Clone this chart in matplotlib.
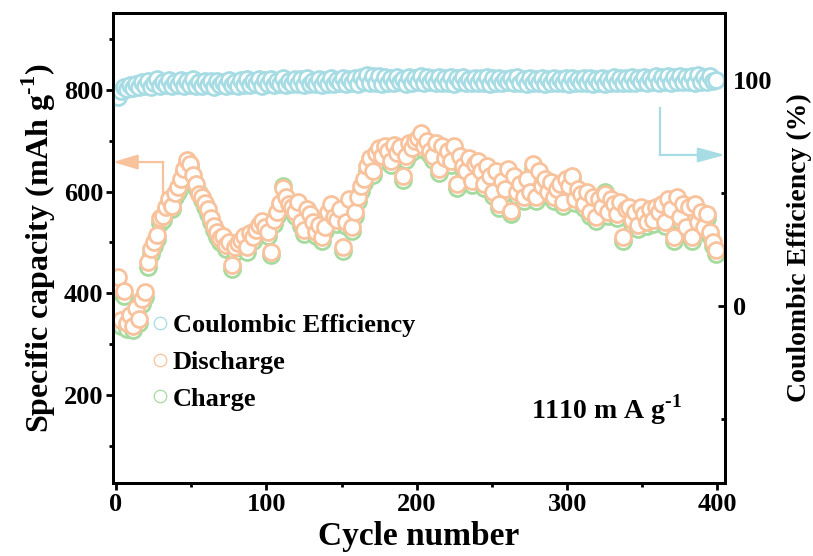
import numpy as np
import matplotlib
matplotlib.use("Agg")
import matplotlib.pyplot as plt
from matplotlib.lines import Line2D
from matplotlib.ticker import MultipleLocator

plt.rcParams["font.family"] = ["Liberation Serif", "DejaVu Serif"]
plt.rcParams["font.weight"] = "bold"
plt.rcParams["mathtext.fontset"] = "custom"
plt.rcParams["mathtext.rm"] = "Liberation Serif:bold"
plt.rcParams["mathtext.bf"] = "Liberation Serif:bold"
plt.rcParams["axes.unicode_minus"] = False

# ============================================================
# Data (every 2nd cycle)
# ============================================================
cycles = np.arange(1, 401, 2)

discharge = [
    432, 348, 405, 342, 358, 336, 372, 350, 388, 402,
    462, 488, 500, 515, 548, 552, 570, 585, 572, 598,
    608, 625, 645, 662, 655, 632, 615, 595, 590, 578,
    565, 548, 532, 520, 508, 512, 495, 500, 455, 490,
    498, 505, 512, 490, 518, 510, 525, 535, 542, 530,
    520, 482, 545, 560, 578, 606, 590, 575, 570, 560,
    580, 540, 525, 565, 555, 540, 520, 535, 510, 530,
    560, 575, 550, 545, 565, 490, 540, 585, 530, 560,
    590, 610, 625, 650, 665, 640, 675, 685, 670, 690,
    680, 660, 692, 675, 688, 630, 670, 695, 685, 700,
    705, 715, 690, 700, 680, 670, 695, 645, 690, 665,
    680, 660, 690, 615, 670, 650, 640, 665, 620, 655,
    660, 640, 615, 650, 630, 600, 640, 575, 620, 605,
    645, 562, 630, 600, 615, 590, 625, 600, 655, 590,
    640, 610, 625, 600, 618, 590, 605, 615, 580, 625,
    610, 630, 585, 605, 595, 575, 600, 560, 590, 550,
    585, 570, 595, 560, 585, 575, 555, 580, 510, 565,
    570, 545, 560, 535, 570, 555, 540, 565, 545, 570,
    560, 575, 540, 585, 565, 510, 590, 550, 575, 530,
    570, 510, 575, 540, 560, 530, 555, 520, 500, 485,
]

charge = [
    405, 335, 395, 330, 345, 328, 360, 342, 378, 392,
    452, 478, 492, 506, 538, 545, 561, 576, 565, 590,
    600, 617, 638, 652, 648, 625, 606, 597, 584, 570,
    556, 540, 524, 511, 500, 503, 487, 492, 447, 482,
    490, 497, 503, 482, 510, 502, 516, 527, 534, 522,
    512, 475, 537, 552, 570, 610, 582, 566, 562, 552,
    572, 532, 517, 556, 547, 532, 512, 527, 503, 522,
    552, 566, 542, 537, 556, 483, 532, 576, 522, 552,
    582, 602, 616, 641, 656, 632, 666, 676, 662, 681,
    672, 652, 683, 667, 680, 622, 662, 686, 677, 692,
    697, 706, 682, 692, 672, 662, 687, 637, 682, 657,
    672, 652, 682, 607, 662, 642, 632, 657, 612, 647,
    652, 632, 607, 642, 622, 592, 632, 567, 612, 597,
    637, 555, 622, 592, 607, 582, 617, 592, 646, 582,
    632, 602, 617, 592, 610, 582, 597, 607, 572, 617,
    602, 622, 577, 597, 587, 567, 592, 552, 582, 542,
    577, 562, 600, 552, 577, 567, 547, 572, 503, 557,
    562, 537, 552, 527, 562, 547, 532, 557, 537, 562,
    552, 567, 532, 577, 557, 502, 582, 542, 567, 522,
    562, 502, 567, 532, 552, 522, 547, 512, 492, 477,
]

efficiency = [
    92.5, 95.0, 96.8, 95.8, 97.6, 96.4, 98.3, 97.0, 98.9, 97.2,
    99.6, 96.9, 98.8, 100.6, 97.4, 99.2, 97.8, 99.9, 97.3, 99.1,
    97.6, 99.8, 97.2, 99.4, 97.9, 100.2, 97.5, 99.0, 97.1, 99.6,
    97.8, 99.3, 97.0, 99.7, 97.6, 99.1, 97.3, 99.8, 97.7, 99.2,
    97.4, 99.9, 97.8, 100.5, 97.6, 99.4, 98.0, 100.3, 97.5, 99.8,
    98.1, 100.4, 97.7, 99.6, 98.3, 100.7, 97.9, 99.5, 98.2, 100.6,
    98.0, 100.2, 97.8, 100.8, 98.4, 99.7, 98.1, 100.5, 97.9, 100.1,
    98.3, 100.9, 98.0, 99.8, 98.5, 101.0, 98.2, 100.3, 98.6, 100.7,
    98.4, 101.3, 98.9, 102.0, 98.6, 101.6, 98.8, 101.9, 98.3, 101.2,
    98.7, 100.8, 98.5, 101.4, 98.9, 100.6, 98.4, 101.5, 98.8, 100.9,
    99.0, 101.7, 98.6, 101.1, 98.9, 100.8, 98.5, 101.4, 98.7, 100.7,
    98.8, 101.2, 98.4, 100.9, 98.9, 101.3, 98.6, 100.6, 98.8, 101.0,
    98.5, 100.9, 98.7, 101.2, 98.4, 100.7, 98.8, 101.0, 98.6, 100.5,
    98.9, 100.8, 98.5, 101.1, 98.7, 100.6, 98.4, 100.9, 98.8, 100.4,
    98.6, 100.8, 98.3, 100.6, 98.7, 101.0, 98.5, 100.5, 98.8, 100.7,
    98.4, 100.9, 98.6, 100.4, 98.8, 100.7, 98.5, 101.0, 98.3, 100.6,
    98.7, 100.8, 98.4, 100.5, 98.8, 101.1, 98.6, 100.7, 98.5, 100.9,
    98.8, 101.2, 98.6, 100.8, 99.0, 101.4, 98.7, 101.0, 98.9, 101.6,
    98.8, 101.3, 99.0, 101.8, 98.7, 101.2, 99.1, 101.9, 98.9, 101.4,
    99.2, 101.7, 98.8, 102.0, 99.0, 101.5, 98.9, 101.8, 99.3, 99.8,
]

C_BLUE = "#A8DCE4"
C_ORANGE = "#F8C29C"
C_GREEN = "#A6DBA0"

# ============================================================
# Figure
# ============================================================
fig = plt.figure(figsize=(8.13, 5.56), dpi=100)
ax = fig.add_axes([113 / 813, 1 - 483 / 556, 612 / 813, 470 / 556])
ax2 = ax.twinx()

mk = dict(ls="none", marker="o", ms=11.5, mew=2.0, mfc="white")
ax.plot(cycles, charge, mec=C_GREEN, **mk)
ax.plot(cycles, discharge, mec=C_ORANGE, **mk)
ax2.plot(cycles, efficiency, mec=C_BLUE, **mk)

ax.set_xlim(-2, 405)
ax.set_ylim(27, 951)
ax2.set_ylim(-78.3, 129.6)

ax.xaxis.set_major_locator(MultipleLocator(100))
ax.xaxis.set_minor_locator(MultipleLocator(50))
ax.yaxis.set_major_locator(MultipleLocator(200))
ax.yaxis.set_minor_locator(MultipleLocator(100))
ax2.yaxis.set_major_locator(MultipleLocator(100))
ax2.yaxis.set_minor_locator(MultipleLocator(50))

for a in (ax, ax2):
    for s in a.spines.values():
        s.set_linewidth(2.0)
ax.tick_params(axis="both", which="major", direction="out", length=5, width=2,
               labelsize=19, pad=2)
ax.tick_params(axis="both", which="minor", direction="out", length=3, width=2)
ax2.tick_params(axis="y", which="major", direction="in", length=5, width=2,
                labelsize=19, pad=6)
ax2.tick_params(axis="y", which="minor", direction="in", length=3, width=2)
for lab in ax.get_xticklabels() + ax.get_yticklabels() + ax2.get_yticklabels():
    lab.set_fontweight("bold")

ax.set_xlabel("Cycle number", fontsize=24, fontweight="bold", labelpad=4)
ax.set_ylabel(r"Specific capacity (mAh g$^{\text{-1}}$)", fontsize=23,
              fontweight="bold", labelpad=4)
ax2.set_ylabel("Coulombic Efficiency (%)", fontsize=20, fontweight="bold",
               labelpad=10)

# arrows pointing to the matching axis
ax.plot([31, 31], [596, 658], color=C_ORANGE, lw=1.6)
ax.annotate("", xy=(-2, 658), xytext=(31.5, 658),
            arrowprops=dict(arrowstyle="-|>,head_length=1.0,head_width=0.3",
                            color=C_ORANGE, lw=1.6, mutation_scale=15,
                            shrinkA=0, shrinkB=0))
ax2.plot([362, 362], [66.8, 87.6], color=C_BLUE, lw=1.6)
ax2.annotate("", xy=(405, 66.8), xytext=(361.5, 66.8),
             arrowprops=dict(arrowstyle="-|>,head_length=1.1,head_width=0.3",
                             color=C_BLUE, lw=1.6, mutation_scale=15,
                             shrinkA=0, shrinkB=0))

ax.text(0.807, 0.155, r"1110 m A g$^{\text{-1}}$", transform=ax.transAxes,
        ha="center", va="center", fontsize=20, fontweight="bold")

handles = [
    Line2D([], [], ls="none", marker="o", ms=9, mew=0.9, mfc="white", mec=C_BLUE),
    Line2D([], [], ls="none", marker="o", ms=9, mew=0.9, mfc="white", mec=C_ORANGE),
    Line2D([], [], ls="none", marker="o", ms=9, mew=0.9, mfc="white", mec=C_GREEN),
]
ax2.legend(handles, ["Coulombic Efficiency", "Discharge", "Charge"],
           loc="upper left", bbox_to_anchor=(0.055, 0.36), frameon=False,
           prop=dict(size=19, weight="bold"), handletextpad=0.0,
           handlelength=1.0, labelspacing=0.5, borderpad=0, borderaxespad=0)

fig.savefig("out.png", dpi=100)
